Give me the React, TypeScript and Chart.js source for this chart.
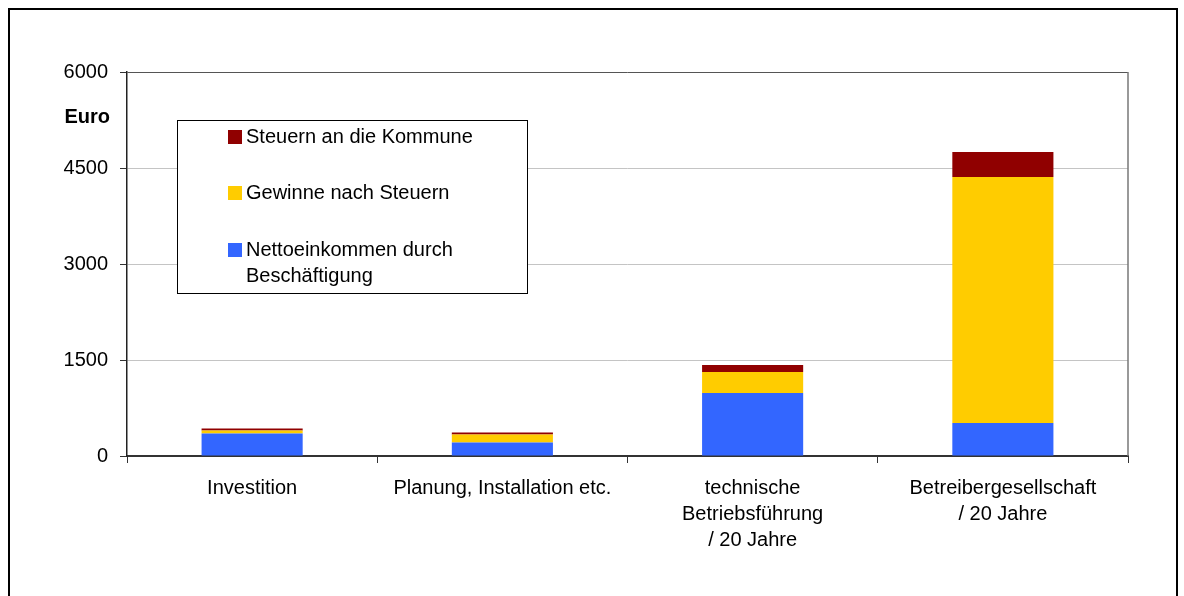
import React, { useEffect, useRef } from "react";
import { Chart, registerables } from "chart.js";

Chart.register(...registerables);

const categories: string[][] = [
  ["Investition"],
  ["Planung, Installation etc."],
  ["technische", "Betriebsführung", "/ 20 Jahre"],
  ["Betreibergesellschaft", "/ 20 Jahre"],
];
const nettoeinkommen = [352, 211, 984, 516];
const gewinne = [47, 125, 328, 3844];
const steuern = [31, 31, 109, 391];
const seriesLabels = [
  "Nettoeinkommen durch Beschäftigung",
  "Gewinne nach Steuern",
  "Steuern an die Kommune",
];
const seriesColors = ["#3366FF", "#FFCC00", "#900000"];
const yTicks = [0, 1500, 3000, 4500, 6000];
const yAxisTitle = "Euro";

const FONT = "'Liberation Sans', Arial, sans-serif";

const decorPlugin = {
  id: "decor",
  afterDraw(chart: any) {
    const { ctx, chartArea } = chart;
    ctx.save();
    // outer frame
    ctx.strokeStyle = "#000";
    ctx.lineWidth = 2;
    ctx.strokeRect(9, 9, 1168, 700);
    // right plot border
    ctx.strokeStyle = "#777";
    ctx.lineWidth = 1.5;
    ctx.beginPath();
    ctx.moveTo(chartArea.right, chartArea.top);
    ctx.lineTo(chartArea.right, chartArea.bottom);
    ctx.stroke();
    // axis title
    ctx.fillStyle = "#000";
    ctx.font = `bold 20px ${FONT}`;
    ctx.textAlign = "right";
    ctx.textBaseline = "middle";
    ctx.fillText(yAxisTitle, 110, 117);

    // legend
    const bx = 177, by = 120, bw = 350, bh = 173;
    ctx.fillStyle = "#fff";
    ctx.fillRect(bx, by, bw, bh);
    ctx.strokeStyle = "#000";
    ctx.lineWidth = 1;
    ctx.strokeRect(bx + 0.5, by + 0.5, bw, bh);
    ctx.font = `20px ${FONT}`;
    ctx.textAlign = "left";
    const ds = [...chart.data.datasets].reverse();
    const rowY = [137, 193, 250];
    ds.forEach((d: any, i: number) => {
      const cy = rowY[i];
      ctx.fillStyle = d.backgroundColor;
      ctx.fillRect(228, cy - 7, 14, 14);
      ctx.fillStyle = "#000";
      const words = String(d.label).split(" ");
      const lines: string[] = [];
      let cur = "";
      words.forEach((w) => {
        const t = cur ? cur + " " + w : w;
        if (ctx.measureText(t).width > 270 && cur) {
          lines.push(cur);
          cur = w;
        } else cur = t;
      });
      if (cur) lines.push(cur);
      lines.forEach((ln, j) => ctx.fillText(ln, 246, cy + j * 26));
    });
    ctx.restore();
  },
};

export default function App() {
  const ref = useRef<HTMLCanvasElement>(null);
  useEffect(() => {
    const canvas = ref.current!;
    const values = [nettoeinkommen, gewinne, steuern];
    const chart = new Chart(canvas, {
      type: "bar",
      data: {
        labels: categories as any,
        datasets: values.map((v, i) => ({
          label: seriesLabels[i],
          data: v,
          backgroundColor: seriesColors[i],
          borderWidth: 0,
          categoryPercentage: 1,
          barPercentage: 0.404,
        })),
      },
      options: {
        animation: false,
        responsive: false,
        devicePixelRatio: 1,
        layout: { padding: { top: 72, right: 56, left: 0, bottom: 0 } },
        plugins: { legend: { display: false }, tooltip: { enabled: false } },
        scales: {
          x: {
            stacked: true,
            afterFit: (s: any) => { s.height = 140; },
            grid: {
              display: true,
              drawOnChartArea: false,
              drawTicks: true,
              tickLength: 7,
              tickColor: "#333",
              offset: true,
            },
            border: { display: true, color: "#333", width: 2 },
            ticks: {
              color: "#000",
              padding: 12,
              maxRotation: 0,
              autoSkip: false,
              font: { family: FONT, size: 20, lineHeight: 1.3 },
            },
          },
          y: {
            stacked: true,
            min: yTicks[0],
            max: yTicks[yTicks.length - 1],
            afterFit: (s: any) => { s.width = 127; },
            afterBuildTicks: (s: any) => { s.ticks = yTicks.map((v) => ({ value: v })); },
            grid: {
              color: (c: any) =>
                c.tick && c.tick.value === 0 ? "rgba(0,0,0,0)" : c.tick && c.tick.value === 6000 ? "#555" : "#c4c4c4",
              tickColor: "#333",
              tickLength: 7,
              lineWidth: 1,
            },
            border: { display: true, color: "#222", width: 1.5 },
            ticks: {
              color: "#000",
              padding: 12,
              font: { family: FONT, size: 20 },
              callback: (v: any) => String(v),
            },
          },
        },
      },
      plugins: [decorPlugin],
    });
    return () => chart.destroy();
  }, []);
  return (
    <div style={{ position: "fixed", left: 0, top: 0, width: 1184, height: 596, background: "#fff" }}>
      <canvas ref={ref} width={1184} height={596} />
    </div>
  );
}
